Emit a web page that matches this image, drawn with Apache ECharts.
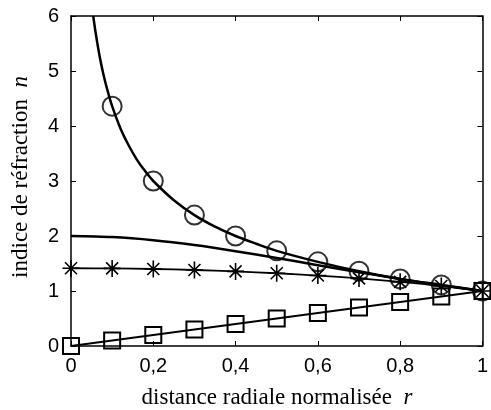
<!DOCTYPE html>
<html><head><meta charset="utf-8">
<script src="https://cdn.jsdelivr.net/npm/echarts@6/dist/echarts.min.js"></script>
<style>html,body{margin:0;padding:0;background:#fff}#c{width:491px;height:410px}</style>
</head><body><div id="c"></div>
<script>
// Eaton-type curve (circles): dense line + markers
const eatonR = [0.054,0.06,0.07,0.08,0.09,0.1,0.12,0.14,0.16,0.18,0.2,0.25,0.3,0.35,0.4,0.45,0.5,0.6,0.7,0.8,0.9,1.0];
const eatonN = [6.0,5.69,5.25,4.90,4.61,4.36,3.96,3.65,3.39,3.18,3.0,2.65,2.38,2.17,2.0,1.86,1.73,1.53,1.36,1.22,1.11,1.0];
const markR = [0.1,0.2,0.3,0.4,0.5,0.6,0.7,0.8,0.9,1.0];
const eatonMarkN = [4.36,3.0,2.38,2.0,1.73,1.53,1.36,1.22,1.11,1.0];
// Fish-eye curve (plain line)
const fishR = [0,0.1,0.2,0.3,0.4,0.5,0.6,0.7,0.8,0.9,1.0];
const fishN = [2.0,1.98,1.923,1.835,1.724,1.6,1.47,1.342,1.22,1.105,1.0];
// Luneburg curve (stars)
const lunR = [0,0.1,0.2,0.3,0.4,0.5,0.6,0.7,0.8,0.9,1.0];
const lunN = [1.414,1.411,1.40,1.382,1.356,1.323,1.281,1.229,1.166,1.091,1.0];
// Linear (squares)
const linR = [0,0.1,0.2,0.3,0.4,0.5,0.6,0.7,0.8,0.9,1.0];
const linN = [0,0.1,0.2,0.3,0.4,0.5,0.6,0.7,0.8,0.9,1.0];
const xTicks = ['0','0,2','0,4','0,6','0,8','1'];
const yTicks = ['0','1','2','3','4','5','6'];

const zip = (a,b)=>a.map((v,i)=>[v,b[i]]);
const star = 'path://M0,-10L0,10M-10,0L10,0M-7.07,-7.07L7.07,7.07M-7.07,7.07L7.07,-7.07';
const tickFont = {fontFamily:'Liberation Sans, Arial, sans-serif', fontSize:20, color:'#000'};
const serif = 'Liberation Serif, Times New Roman, serif';
const chart = echarts.init(document.getElementById('c'), null, {renderer:'canvas'});
const axisBase = {
  axisLine:{show:true,onZero:false,lineStyle:{color:'#000',width:1.5}},
  axisTick:{show:true,inside:true,length:5,lineStyle:{color:'#000',width:1}},
  splitLine:{show:false}
};
chart.setOption({
  animation:false,
  backgroundColor:'#fff',
  grid:{left:71,right:1,top:16,bottom:64},
  xAxis:[
    Object.assign({type:'value',min:0,max:1,interval:0.2,position:'bottom',
      axisLabel:Object.assign({margin:10,formatter:(v)=>xTicks[Math.round(v/0.2)]},tickFont)}, axisBase),
    Object.assign({type:'value',min:0,max:1,interval:0.2,position:'top',axisLabel:{show:false}}, axisBase)
  ],
  yAxis:[
    Object.assign({type:'value',min:0,max:6,interval:1,position:'left',
      axisLabel:Object.assign({margin:12,formatter:(v)=>yTicks[Math.round(v)]},tickFont)}, axisBase),
    Object.assign({type:'value',min:0,max:6,interval:1,position:'right',axisLabel:{show:false}}, axisBase)
  ],
  graphic:[
    {type:'text',x:277,y:398,style:{rich:{a:{fontFamily:serif,fontSize:23,fill:'#000'},b:{fontFamily:serif,fontSize:23,fontStyle:'italic',fill:'#000'}},text:'{a|distance radiale normalisée  }{b|r}',align:'center',verticalAlign:'middle'}},
    {type:'text',x:21,y:177,rotation:Math.PI/2,style:{rich:{a:{fontFamily:serif,fontSize:23,fill:'#000'},b:{fontFamily:serif,fontSize:23,fontStyle:'italic',fill:'#000'}},text:'{a|indice de réfraction  }{b|n}',align:'center',verticalAlign:'middle'}}
  ],
  series:[
    {type:'line',data:zip(eatonR,eatonN),smooth:0.3,showSymbol:false,symbol:'none',lineStyle:{color:'#000',width:2.5},z:3},
    {type:'scatter',data:zip(markR,eatonMarkN),symbol:'circle',symbolSize:19,itemStyle:{color:'rgba(0,0,0,0)',borderColor:'#000',borderWidth:2},z:4},
    {type:'line',data:zip(fishR,fishN),smooth:0.3,showSymbol:false,symbol:'none',lineStyle:{color:'#000',width:2.5},z:3},
    {type:'line',data:zip(lunR,lunN),smooth:0.3,symbol:star,symbolSize:17,showSymbol:true,lineStyle:{color:'#000',width:1.8},itemStyle:{color:'rgba(0,0,0,0)',borderColor:'#000',borderWidth:1.6},z:3},
    {type:'line',data:zip(linR,linN),symbol:'rect',symbolSize:16,showSymbol:true,lineStyle:{color:'#000',width:1.8},itemStyle:{color:'rgba(0,0,0,0)',borderColor:'#000',borderWidth:2},z:3}
  ]
});
</script></body></html>
